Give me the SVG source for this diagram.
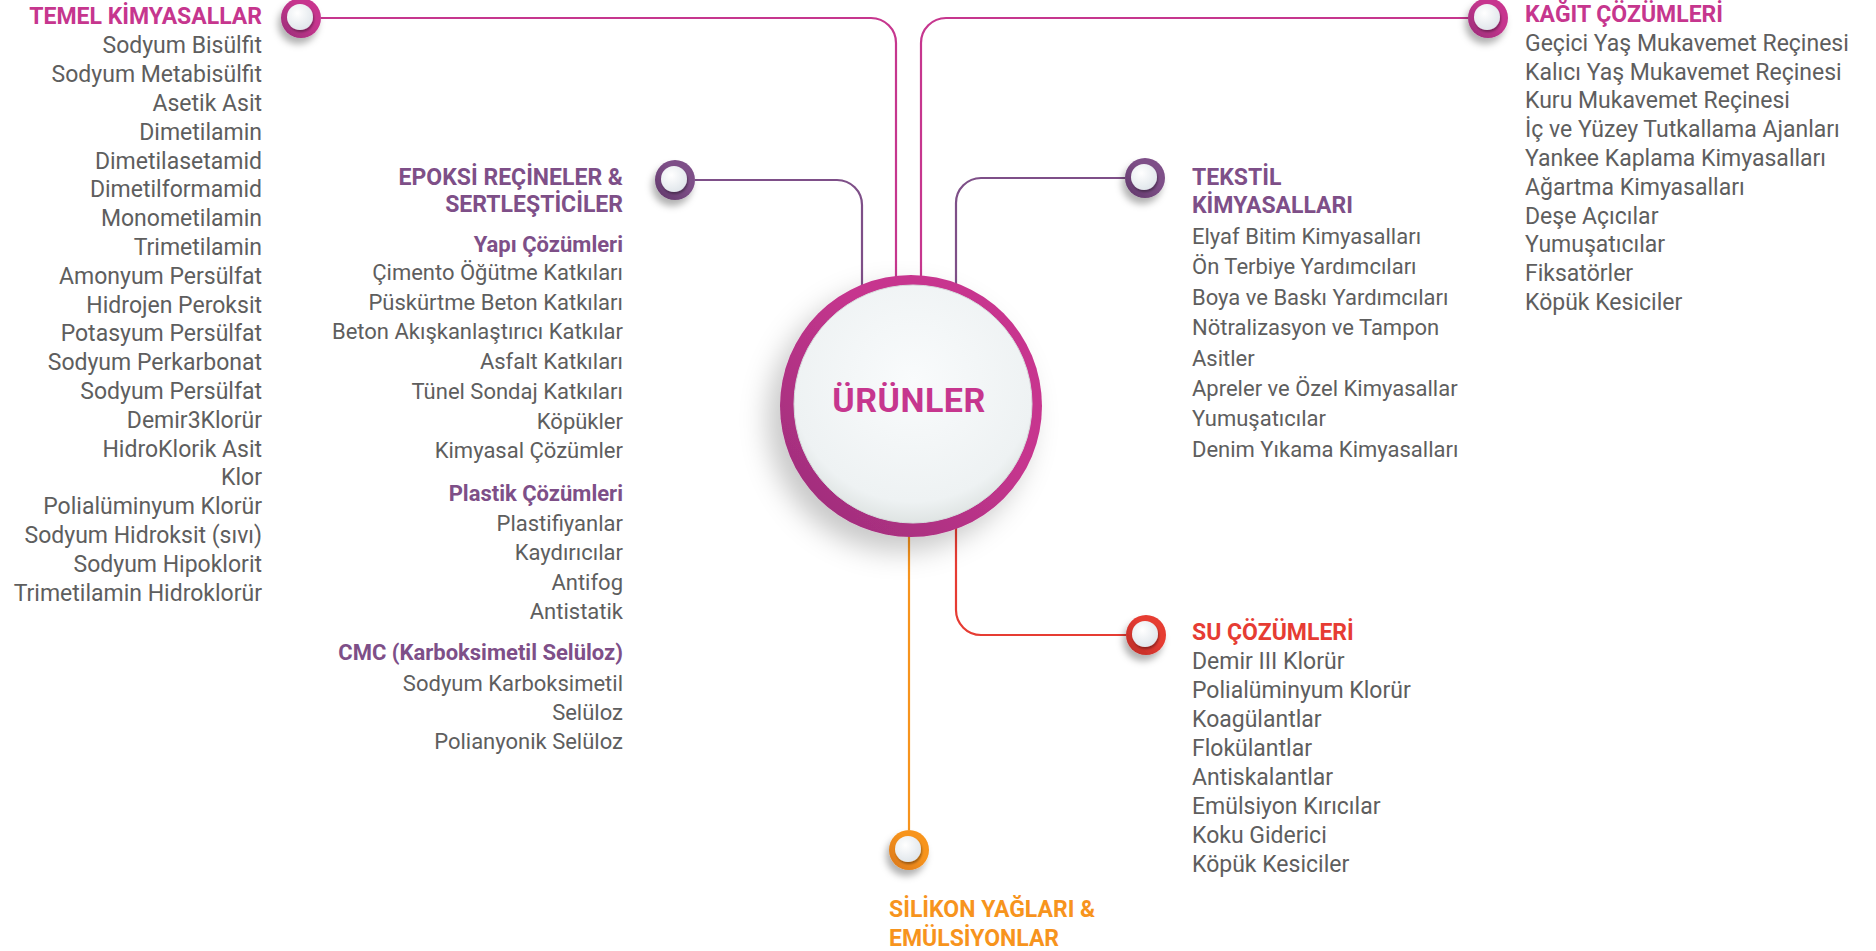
<svg xmlns="http://www.w3.org/2000/svg" width="1876" height="951" viewBox="0 0 1876 951">
<defs>
<style>
.t{font-family:Roboto,"Liberation Sans",sans-serif;font-size:23px;fill:#5e5e5e}
.s{font-size:22px}
.h{font-weight:700}
.e{text-anchor:end}
.mag{fill:#c6368e}.pur{fill:#7e4f88}.red{fill:#e63c33}.org{fill:#f7941d}
.ln{fill:none;stroke-width:2.2}
</style>
<filter id="nsh" x="-80%" y="-80%" width="260%" height="260%"><feDropShadow dx="-3" dy="6" stdDeviation="3.5" flood-color="#000" flood-opacity="0.3"/></filter>
<filter id="ish" x="-50%" y="-50%" width="200%" height="200%"><feDropShadow dx="1" dy="2" stdDeviation="1.2" flood-color="#000" flood-opacity="0.35"/></filter>
<filter id="bsh" x="-40%" y="-40%" width="180%" height="180%"><feDropShadow dx="-12" dy="14" stdDeviation="14" flood-color="#000" flood-opacity="0.22"/></filter>
<radialGradient id="face" cx="40%" cy="35%" r="70%"><stop offset="0" stop-color="#ffffff"/><stop offset="1" stop-color="#dfe5ea"/></radialGradient>
<radialGradient id="bface" cx="50%" cy="40%" r="60%"><stop offset="0" stop-color="#f9fbfc"/><stop offset="0.85" stop-color="#eef2f3"/><stop offset="1" stop-color="#dfe4e3"/></radialGradient>
<linearGradient id="gMag" x1="0" y1="1" x2="1" y2="0"><stop offset="0" stop-color="#982c78"/><stop offset="0.6" stop-color="#c6368e"/><stop offset="1" stop-color="#c9368f"/></linearGradient>
<linearGradient id="gPur" x1="0" y1="1" x2="1" y2="0"><stop offset="0" stop-color="#5f3768"/><stop offset="0.6" stop-color="#7e4f88"/></linearGradient>
<linearGradient id="gRed" x1="0" y1="1" x2="1" y2="0"><stop offset="0" stop-color="#b92b26"/><stop offset="0.6" stop-color="#e63c33"/></linearGradient>
<linearGradient id="gOrg" x1="0" y1="1" x2="1" y2="0"><stop offset="0" stop-color="#d8761a"/><stop offset="0.6" stop-color="#f7941d"/></linearGradient>
<g id="dot"><circle r="13" cx="-1" cy="-1" fill="url(#face)" filter="url(#ish)"/></g>
</defs>
<rect width="1876" height="951" fill="#ffffff"/>

<g id="connectors">
<path class="ln" stroke="#c6368e" d="M321,18 H871 A25,25 0 0 1 896,43 V300"/>
<path class="ln" stroke="#c6368e" d="M1468,18 H946 A25,25 0 0 0 921,43 V300"/>
<path class="ln" stroke="#7e4f88" d="M695,180 H837 A25,25 0 0 1 862,205 V320"/>
<path class="ln" stroke="#7e4f88" d="M1125,178 H981 A25,25 0 0 0 956,203 V320"/>
<path class="ln" stroke="#e63c33" d="M956,500 V610 A25,25 0 0 0 981,635 H1126"/>
<path class="ln" stroke="#f7941d" d="M909,520 V830"/>
</g>

<g id="urunler">
<circle cx="911" cy="406" r="131" fill="url(#gMag)" filter="url(#bsh)"/>
<circle cx="913" cy="404" r="119" fill="url(#bface)" stroke="#d6dcdc" stroke-width="1"/>
<text class="t h mag" x="909" y="412" text-anchor="middle" style="font-size:34px;letter-spacing:0.5px">ÜRÜNLER</text>
</g>

<g id="temel">
<circle cx="301" cy="18" r="20" fill="url(#gMag)" filter="url(#nsh)"/>
<use href="#dot" x="301" y="18"/>
<text class="t h e mag" x="262" y="24">TEMEL KİMYASALLAR</text>
<text class="t e" x="262" y="53.3">Sodyum Bisülfit</text>
<text class="t e" x="262" y="82.1">Sodyum Metabisülfit</text>
<text class="t e" x="262" y="110.9">Asetik Asit</text>
<text class="t e" x="262" y="139.7">Dimetilamin</text>
<text class="t e" x="262" y="168.5">Dimetilasetamid</text>
<text class="t e" x="262" y="197.3">Dimetilformamid</text>
<text class="t e" x="262" y="226.1">Monometilamin</text>
<text class="t e" x="262" y="254.9">Trimetilamin</text>
<text class="t e" x="262" y="283.7">Amonyum Persülfat</text>
<text class="t e" x="262" y="312.5">Hidrojen Peroksit</text>
<text class="t e" x="262" y="341.3">Potasyum Persülfat</text>
<text class="t e" x="262" y="370.1">Sodyum Perkarbonat</text>
<text class="t e" x="262" y="398.9">Sodyum Persülfat</text>
<text class="t e" x="262" y="427.7">Demir3Klorür</text>
<text class="t e" x="262" y="456.5">HidroKlorik Asit</text>
<text class="t e" x="262" y="485.3">Klor</text>
<text class="t e" x="262" y="514.1">Polialüminyum Klorür</text>
<text class="t e" x="262" y="542.9">Sodyum Hidroksit (sıvı)</text>
<text class="t e" x="262" y="571.7">Sodyum Hipoklorit</text>
<text class="t e" x="262" y="600.5">Trimetilamin Hidroklorür</text>
</g>

<g id="epoksi">
<circle cx="675" cy="180" r="20" fill="url(#gPur)" filter="url(#nsh)"/>
<use href="#dot" x="675" y="180"/>
<text class="t h e pur" x="623" y="185">EPOKSİ REÇİNELER &amp;</text>
<text class="t h e pur" x="623" y="211.7">SERTLEŞTİCİLER</text>
<text class="t s h e pur" x="623" y="251.7">Yapı Çözümleri</text>
<text class="t s e" x="623" y="280">Çimento Öğütme Katkıları</text>
<text class="t s e" x="623" y="309.7">Püskürtme Beton Katkıları</text>
<text class="t s e" x="623" y="339.4">Beton Akışkanlaştırıcı Katkılar</text>
<text class="t s e" x="623" y="369.1">Asfalt Katkıları</text>
<text class="t s e" x="623" y="398.8">Tünel Sondaj Katkıları</text>
<text class="t s e" x="623" y="428.5">Köpükler</text>
<text class="t s e" x="623" y="458.2">Kimyasal Çözümler</text>
<text class="t s h e pur" x="623" y="500.7">Plastik Çözümleri</text>
<text class="t s e" x="623" y="530.5">Plastifiyanlar</text>
<text class="t s e" x="623" y="560">Kaydırıcılar</text>
<text class="t s e" x="623" y="589.5">Antifog</text>
<text class="t s e" x="623" y="619">Antistatik</text>
<text class="t s h e pur" x="623" y="660">CMC (Karboksimetil Selüloz)</text>
<text class="t s e" x="623" y="690.5">Sodyum Karboksimetil</text>
<text class="t s e" x="623" y="720">Selüloz</text>
<text class="t s e" x="623" y="749">Polianyonik Selüloz</text>
</g>

<g id="kagit">
<circle cx="1488" cy="18" r="20" fill="url(#gMag)" filter="url(#nsh)"/>
<use href="#dot" x="1488" y="18"/>
<text class="t h mag" x="1525" y="22">KAĞIT ÇÖZÜMLERİ</text>
<text class="t" x="1525" y="50.7">Geçici Yaş Mukavemet Reçinesi</text>
<text class="t" x="1525" y="79.5">Kalıcı Yaş Mukavemet Reçinesi</text>
<text class="t" x="1525" y="108.3">Kuru Mukavemet Reçinesi</text>
<text class="t" x="1525" y="137.1">İç ve Yüzey Tutkallama Ajanları</text>
<text class="t" x="1525" y="165.9">Yankee Kaplama Kimyasalları</text>
<text class="t" x="1525" y="194.7">Ağartma Kimyasalları</text>
<text class="t" x="1525" y="223.5">Deşe Açıcılar</text>
<text class="t" x="1525" y="252.3">Yumuşatıcılar</text>
<text class="t" x="1525" y="281.1">Fiksatörler</text>
<text class="t" x="1525" y="309.9">Köpük Kesiciler</text>
</g>

<g id="tekstil">
<circle cx="1145" cy="178" r="20" fill="url(#gPur)" filter="url(#nsh)"/>
<use href="#dot" x="1145" y="178"/>
<text class="t h pur" x="1192" y="185">TEKSTİL</text>
<text class="t h pur" x="1192" y="213.3">KİMYASALLARI</text>
<text class="t s" x="1192" y="244">Elyaf Bitim Kimyasalları</text>
<text class="t s" x="1192" y="274.4">Ön Terbiye Yardımcıları</text>
<text class="t s" x="1192" y="304.8">Boya ve Baskı Yardımcıları</text>
<text class="t s" x="1192" y="335.2">Nötralizasyon ve Tampon</text>
<text class="t s" x="1192" y="365.6">Asitler</text>
<text class="t s" x="1192" y="396">Apreler ve Özel Kimyasallar</text>
<text class="t s" x="1192" y="426.4">Yumuşatıcılar</text>
<text class="t s" x="1192" y="456.8">Denim Yıkama Kimyasalları</text>
</g>

<g id="su">
<circle cx="1146" cy="635" r="20" fill="url(#gRed)" filter="url(#nsh)"/>
<use href="#dot" x="1146" y="635"/>
<text class="t h red" x="1192" y="640">SU ÇÖZÜMLERİ</text>
<text class="t" x="1192" y="669.3">Demir III Klorür</text>
<text class="t" x="1192" y="698.3">Polialüminyum Klorür</text>
<text class="t" x="1192" y="727.3">Koagülantlar</text>
<text class="t" x="1192" y="756.3">Flokülantlar</text>
<text class="t" x="1192" y="785.3">Antiskalantlar</text>
<text class="t" x="1192" y="814.3">Emülsiyon Kırıcılar</text>
<text class="t" x="1192" y="843.3">Koku Giderici</text>
<text class="t" x="1192" y="872.3">Köpük Kesiciler</text>
</g>

<g id="silikon">
<circle cx="909" cy="850" r="20" fill="url(#gOrg)" filter="url(#nsh)"/>
<use href="#dot" x="909" y="850"/>
<text class="t h org" x="889" y="917.3">SİLİKON YAĞLARI &amp;</text>
<text class="t h org" x="889" y="945.7">EMÜLSİYONLAR</text>
</g>
</svg>
